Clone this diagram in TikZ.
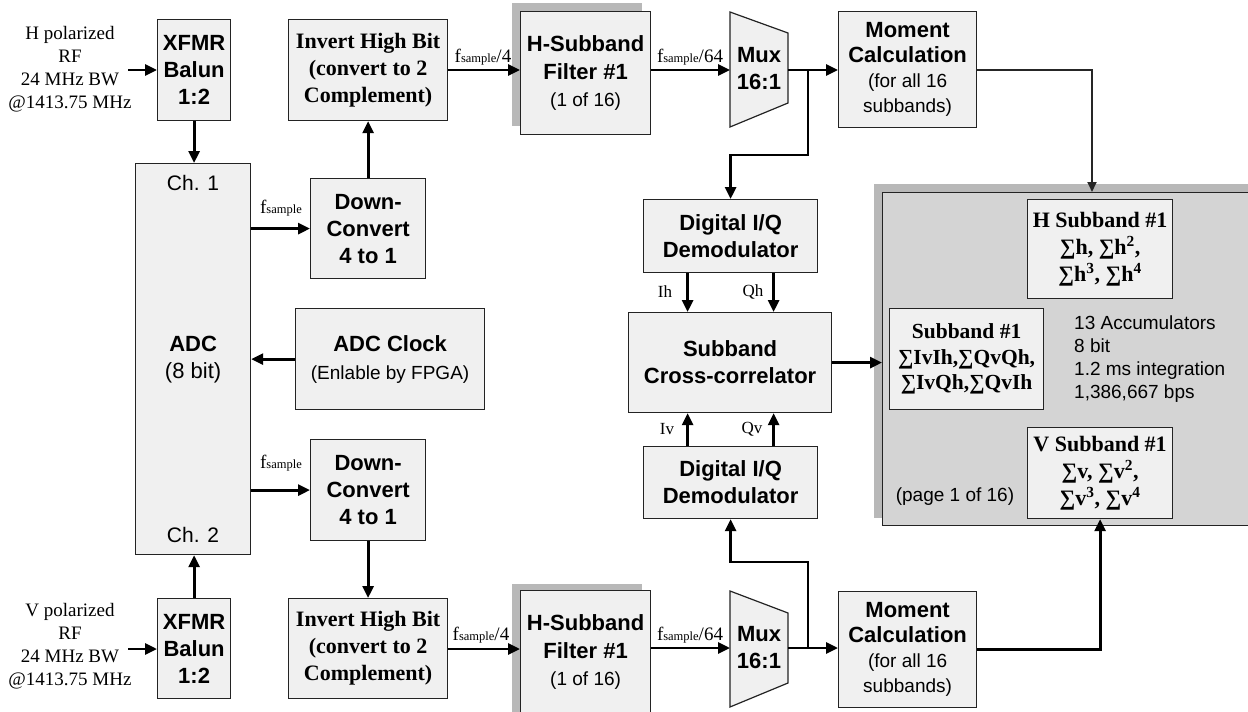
\documentclass[tikz,border=0pt]{standalone}
\usepackage{fontspec}
\setmainfont{Liberation Serif}
\newfontfamily\ars{Liberation Sans}
\usetikzlibrary{arrows.meta}
\definecolor{boxfill}{RGB}{240,240,240}
\definecolor{panelfill}{RGB}{212,212,212}
\definecolor{shade}{RGB}{184,184,184}
\definecolor{edge}{RGB}{35,35,35}
\tikzset{
  blk/.style={draw=edge, line width=1.2, fill=boxfill, inner sep=0, align=center, anchor=north west},
  shadowbox/.style={fill=shade, draw=none, inner sep=0, anchor=north west},
  sansb/.style={font=\ars\bfseries\fontsize{22}{27}\selectfont},
  serifb/.style={font=\bfseries\fontsize{22}{27}\selectfont},
  plain/.style={inner sep=0, align=center},
  arr/.style={line width=2.8, -{Triangle[length=12,width=11]}},
  thinarr/.style={line width=1.8, draw=black!85, -{Triangle[length=10,width=9]}},
  lbl/.style={inner sep=0, font=\fontsize{17}{20}\selectfont},
}
\newcommand{\fs}{{\fontsize{19}{22}\selectfont f}{\fontsize{12.5}{14}\selectfont sample}}
\begin{document}
\begin{tikzpicture}[x=1pt,y=-1pt]
\useasboundingbox (0,0) rectangle (1248,712);

% ---------- right panel ----------
\node[shadowbox, minimum width=380, minimum height=334] (panelsh) at (874,184) {};
\node[blk, fill=panelfill, minimum width=370, minimum height=333] (panel) at (882,192) {};
\node[blk, serifb, minimum width=145, minimum height=99] (hsb) at (1027,199)
  {H Subband \#1\\∑h, ∑h\textsuperscript{2},\\∑h\textsuperscript{3}, ∑h\textsuperscript{4}};
\node[blk, serifb, font=\bfseries\fontsize{21.5}{25.5}\selectfont, minimum width=154, minimum height=101] (sb) at (889,308)
  {Subband \#1\\∑IvIh,∑QvQh,\\∑IvQh,∑QvIh};
\node[blk, serifb, minimum width=145, minimum height=91] (vsb) at (1027,427)
  {V Subband \#1\\∑v, ∑v\textsuperscript{2},\\∑v\textsuperscript{3}, ∑v\textsuperscript{4}};
\node[inner sep=0, align=left, anchor=west, font=\ars\fontsize{19}{23}\selectfont] (acc) at (1074,359)
  {13 Accumulators\\8 bit\\1.2 ms integration\\1,386,667 bps};
\node[plain, font=\ars\fontsize{19}{23}\selectfont] (pg) at (955,497) {(page 1 of 16)};

% ---------- inputs ----------
\node[plain, font=\fontsize{19}{23}\selectfont] (hin) at (70,69) {H polarized\\RF\\24 MHz BW\\@1413.75 MHz};
\node[plain, font=\fontsize{19}{23}\selectfont] (vin) at (70,646) {V polarized\\RF\\24 MHz BW\\@1413.75 MHz};

% ---------- left column ----------
\node[blk, sansb, minimum width=73, minimum height=101] (xfmr1) at (157,19) {XFMR\\Balun\\1:2};
\node[blk, sansb, minimum width=73, minimum height=100] (xfmr2) at (157,598) {XFMR\\Balun\\1:2};
\node[blk, font=\ars\fontsize{22}{27}\selectfont, minimum width=115, minimum height=391] (adc) at (135,163) {\textbf{ADC}\\(8 bit)};
\node[plain, font=\ars\fontsize{21}{25}\selectfont] (ch1) at (193,183) {Ch. 1};
\node[plain, font=\ars\fontsize{21}{25}\selectfont] (ch2) at (193,535) {Ch. 2};

\node[blk, sansb, minimum width=115, minimum height=100] (dc1) at (310,178) {Down-\\Convert\\4 to 1};
\node[blk, sansb, minimum width=115, minimum height=101] (dc2) at (310,439) {Down-\\Convert\\4 to 1};
\node[blk, serifb, minimum width=159, minimum height=101] (inv1) at (288,19) {Invert High Bit\\(convert to 2\\Complement)};
\node[blk, serifb, minimum width=159, minimum height=100] (inv2) at (288,598) {Invert High Bit\\(convert to 2\\Complement)};
\node[blk, font=\ars\fontsize{19}{28}\selectfont, minimum width=189, minimum height=101] (clk) at (295,308)
  {{\fontsize{22}{28}\selectfont\bfseries ADC Clock}\\(Enlable by FPGA)};

% ---------- filters ----------
\node[shadowbox, minimum width=130, minimum height=123] (f1sh) at (512,3) {};
\node[blk, font=\ars\fontsize{22}{27.5}\selectfont, minimum width=130, minimum height=123] (filt1) at (520,11)
  {\textbf{H-Subband}\\\textbf{Filter \#1}\\{\fontsize{19}{27.5}\selectfont(1 of 16)}};
\node[shadowbox, minimum width=130, minimum height=140] (f2sh) at (512,584) {};
\node[blk, font=\ars\fontsize{22}{27.5}\selectfont, minimum width=130, minimum height=123] (filt2) at (520,590)
  {\textbf{H-Subband}\\\textbf{Filter \#1}\\{\fontsize{19}{27.5}\selectfont(1 of 16)}};

% ---------- muxes ----------
\draw[draw=edge, line width=1.2, fill=boxfill] (730,12) -- (788,33) -- (788,103) -- (730,127) -- cycle;
\node[plain, sansb] (mux1) at (759,69) {Mux\\16:1};
\coordinate (mux1in) at (730,70);
\coordinate (mux1out) at (788,70);
\draw[draw=edge, line width=1.2, fill=boxfill] (730,591) -- (788,613) -- (788,683) -- (730,707) -- cycle;
\node[plain, sansb] (mux2) at (759,648) {Mux\\16:1};
\coordinate (mux2in) at (730,648);
\coordinate (mux2out) at (788,648);

% ---------- moment ----------
\node[blk, font=\ars\fontsize{19}{25}\selectfont, minimum width=138, minimum height=116] (mom1) at (838,11)
  {{\bfseries\fontsize{22}{25}\selectfont Moment}\\{\bfseries\fontsize{22}{25}\selectfont Calculation}\\(for all 16\\subbands)};
\node[blk, font=\ars\fontsize{19}{25}\selectfont, minimum width=138, minimum height=116] (mom2) at (838,591)
  {{\bfseries\fontsize{22}{25}\selectfont Moment}\\{\bfseries\fontsize{22}{25}\selectfont Calculation}\\(for all 16\\subbands)};

% ---------- centre ----------
\node[blk, sansb, minimum width=174, minimum height=73] (iq1) at (643,199) {Digital I/Q\\Demodulator};
\node[blk, sansb, minimum width=203, minimum height=100] (xc) at (628,312) {Subband\\Cross-correlator};
\node[blk, sansb, minimum width=174, minimum height=72] (iq2) at (643,446) {Digital I/Q\\Demodulator};

% ---------- connectors ----------
\coordinate (hsrc) at (128,70);
\coordinate (vsrc) at (128,649);
\draw[arr] (hsrc) -- (hsrc -| xfmr1.west);
\draw[arr] (vsrc) -- (vsrc -| xfmr2.west);
\draw[arr] (xfmr1.south) -- (xfmr1.south |- adc.north);
\draw[arr] (xfmr2.north) -- (xfmr2.north |- adc.south);
\draw[arr] (adc.east |- dc1.west) -- (dc1.west);
\draw[arr] (adc.east |- dc2.west) -- (dc2.west);
\draw[arr] (clk.west) -- (clk.west -| adc.east);
\draw[arr] (dc1.north) -- (inv1.south);
\draw[arr] (dc2.south) -- (inv2.north);
\draw[arr] (inv1.east |- mux1in) -- (filt1.west |- mux1in);
\draw[arr] (inv2.east |- vsrc) -- (filt2.west |- vsrc);
\draw[arr] (filt1.east |- mux1in) -- (mux1in);
\draw[arr] (filt2.east |- mux2in) -- (mux2in);
\draw[arr] (mux1out) -- (mux1out -| mom1.west);
\draw[arr] (mux2out) -- (mux2out -| mom2.west);
\coordinate (br1) at (808,70);
\coordinate (k1) at (808,155);
\draw[arr] (br1) -- (k1) -| (iq1.north);
\coordinate (br2) at (808,648);
\coordinate (k2) at (808,562);
\draw[arr] (br2) -- (k2) -| (iq2.south);
\draw[arr] ([xshift=-43]iq1.south) -- ([xshift=-43]iq1.south |- xc.north);
\draw[arr] ([xshift=43]iq1.south) -- ([xshift=43]iq1.south |- xc.north);
\draw[arr] ([xshift=-43]iq2.north) -- ([xshift=-43]iq2.north |- xc.south);
\draw[arr] ([xshift=43]iq2.north) -- ([xshift=43]iq2.north |- xc.south);
\draw[arr] (xc.east) -- (xc.east -| panel.west);
\coordinate (pin) at (1092,192);
\draw[thinarr] (mom1.east) -| (pin);
\draw[arr] (mom2.east) -| (vsb.south);

% ---------- labels ----------
\node[lbl] (l1) at (281,208) {\fs};
\node[lbl] (l2) at (281,463) {\fs};
\node[lbl] (l3) at (483,57) {\fs{\fontsize{19}{22}\selectfont/4}};
\node[lbl] (l4) at (481,635) {\fs{\fontsize{19}{22}\selectfont/4}};
\node[lbl] (l5) at (690,57) {\fs{\fontsize{19}{22}\selectfont/64}};
\node[lbl] (l6) at (690,635) {\fs{\fontsize{19}{22}\selectfont/64}};
\node[lbl] (ih) at (665,292) {Ih};
\node[lbl] (qh) at (753,292) {Qh};
\node[lbl] (iv) at (667,429) {Iv};
\node[lbl] (qv) at (752,429) {Qv};
\end{tikzpicture}
\end{document}
